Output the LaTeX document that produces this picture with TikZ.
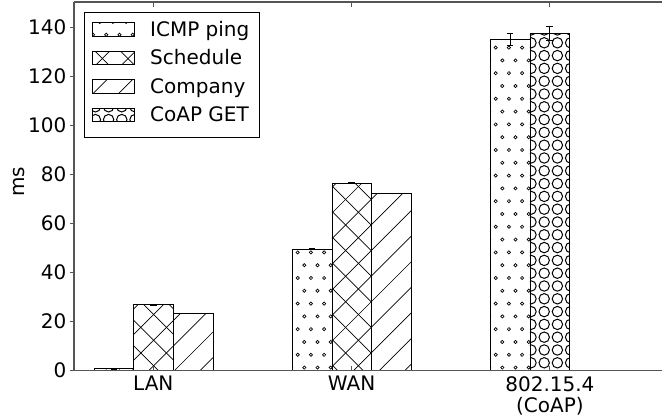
\documentclass[tikz,border=0pt]{standalone}
\usepackage{fontspec}
\setmainfont{DejaVu Sans}
\usepackage{xcolor}
\definecolor{spinegray}{HTML}{555555}

% hatch fills, fixed to the page like the plotting tool does
\newcommand{\hatchslash}[4]{%
  \begin{scope}
    \clip (#1,#2) rectangle (#3,#4);
    \foreach \k in {-26,...,16}
      \draw[hatch] (#1,{#1+\k*25.6}) -- (#3,{#3+\k*25.6});
  \end{scope}}
\newcommand{\hatchcross}[4]{%
  \begin{scope}
    \clip (#1,#2) rectangle (#3,#4);
    \foreach \k in {-26,...,16}
      \draw[hatch] (#1,{#1+\k*25.6}) -- (#3,{#3+\k*25.6});
    \foreach \k in {2,...,44}
      \draw[hatch] (#1,{-#1+\k*25.6}) -- (#3,{-#3+\k*25.6});
  \end{scope}}
\newcommand{\hatchdots}[4]{%
  \begin{scope}
    \clip (#1,#2) rectangle (#3,#4);
    \pgfmathtruncatemacro\rowa{floor(#2/12.8)-1}
    \pgfmathtruncatemacro\rowb{floor(#4/12.8)+1}
    \pgfmathtruncatemacro\cola{floor(#1/13.2)-1}
    \pgfmathtruncatemacro\colb{floor(#3/13.2)+1}
    \foreach \r in {\rowa,...,\rowb}
      \foreach \c in {\cola,...,\colb}
        \draw[hatch] ({\c*13.2+7.3+mod(\r,2)*6.6},{\r*12.8+11}) circle (1.6);
  \end{scope}}
\newcommand{\hatchrings}[4]{%
  \begin{scope}
    \clip (#1,#2) rectangle (#3,#4);
    \pgfmathtruncatemacro\rowa{floor(#2/12.8)-1}
    \pgfmathtruncatemacro\rowb{floor(#4/12.8)+1}
    \pgfmathtruncatemacro\cola{floor(#1/13.2)-1}
    \pgfmathtruncatemacro\colb{floor(#3/13.2)+1}
    \foreach \r in {\rowa,...,\rowb}
      \foreach \c in {\cola,...,\colb}
        \draw[hatch, line width=1pt] ({\c*13.2+3},{\r*12.8+3}) circle (5.2);
  \end{scope}}

\begin{document}
\begin{tikzpicture}[
    x=1pt, y=1pt,
    hatch/.style={black, line width=0.7pt},
    baredge/.style={draw=black, line width=0.9pt},
    errbar/.style={black, line width=0.9pt},
    spine/.style={draw=spinegray, line width=1.1pt},
    ticklabel/.style={font=\fontsize{20}{21}\selectfont, inner sep=0pt},
    legtext/.style={font=\fontsize{20}{21}\selectfont, inner sep=0pt, anchor=base west}
  ]
  \useasboundingbox (0,0) rectangle (662,417);

  % bars: left edge / value / hatch / error
  \foreach \xa/\val/\kind/\err in {94/0.8/dots/0.1, 133.66/26.9/cross/0.2, 173.32/23.4/slash/0.1,
      292.3/49.6/dots/0.2, 331.96/76.4/cross/0.2, 371.62/72.3/slash/0.1,
      490.3/135.0/dots/2.5, 529.96/137.5/rings/2.9} {
    \pgfmathsetmacro\xb{\xa+39.66}
    \pgfmathsetmacro\xm{\xa+19.83}
    \pgfmathsetmacro\ytop{46.3+2.4531*\val}
    \pgfmathsetmacro\ehi{46.3+2.4531*(\val+\err)}
    \pgfmathsetmacro\elo{46.3+2.4531*(\val-\err)}
    \csname hatch\kind\endcsname{\xa}{46.3}{\xb}{\ytop}
    \draw[baredge] (\xa,46.3) rectangle (\xb,\ytop);
    \draw[errbar] (\xm,\elo) -- (\xm,\ehi)
      (\xm-3.3,\ehi) -- (\xm+3.3,\ehi) (\xm-3.3,\elo) -- (\xm+3.3,\elo);
  }

  % axes
  \draw[spine] (74,415) -- (74,46.3) -- (662,46.3);
  \draw[spine] (74,415) -- (662,415);
  \foreach \v in {0,20,...,140} {
    \pgfmathsetmacro\yv{46.3+2.4531*\v}
    \draw[spine] (74,\yv) -- (69.5,\yv);
    \node[ticklabel, anchor=east] (ytick\v) at (66.5,\yv) {\v};
  }
  \foreach \xg/\gname/\glabel in {153.3/lan/LAN, 351.6/wan/WAN, 549.9/zig/{802.15.4\\(CoAP)}} {
    \draw[spine] (\xg,46.3) -- ++(0,5);
    \draw[spine] (\xg,415) -- ++(0,-5);
    \node[ticklabel, anchor=north, align=center] (\gname) at (\xg,41) {\glabel};
  }
  \node[ticklabel, rotate=90] (ylab) at (19,235) {ms};

  % legend
  \draw[draw=black, line width=0.9pt, fill=white] (84,404.3) rectangle (259.3,280);
  \foreach \i/\kind/\txt in {0/dots/ICMP ping, 1/cross/Schedule, 2/slash/Company, 3/rings/CoAP GET} {
    \pgfmathsetmacro\ya{380.8-28.5*\i}
    \pgfmathsetmacro\yb{394.3-28.5*\i}
    \csname hatch\kind\endcsname{92.5}{\ya}{134}{\yb}
    \draw[baredge] (92.5,\ya) rectangle (134,\yb);
    \node[legtext] (leg\i) at (150,\ya) {\txt};
  }
\end{tikzpicture}
\end{document}
